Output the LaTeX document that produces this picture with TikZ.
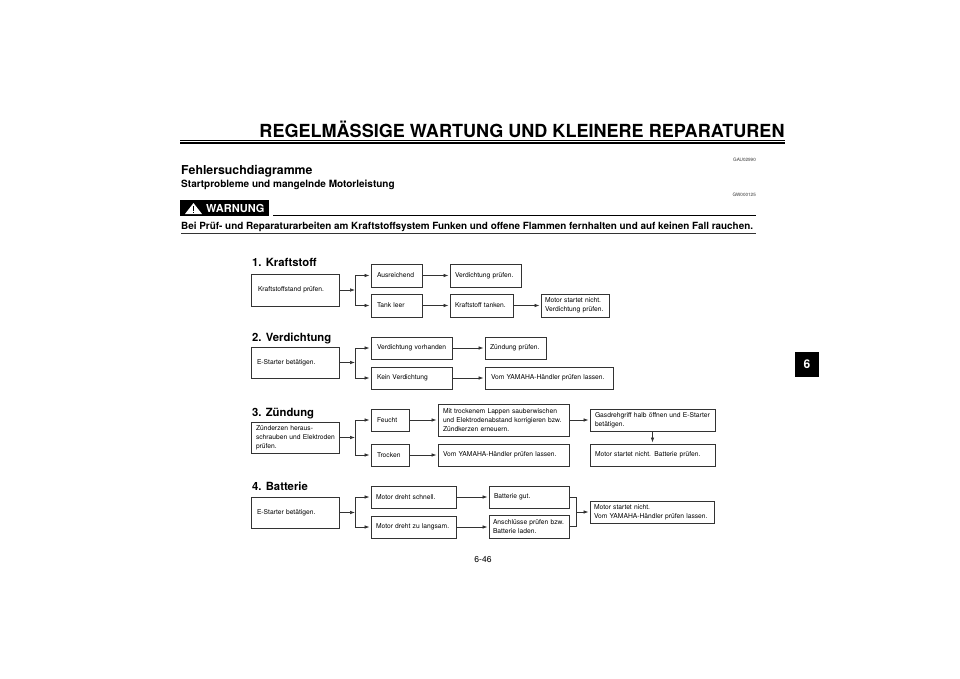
\documentclass[tikz,border=0pt]{standalone}
\usepackage{fontspec}
\setmainfont{TeX Gyre Heros}
\usetikzlibrary{arrows.meta}
\tikzset{
  flowbox/.style n args={3}{draw=black!80,line width=0.7pt,outer sep=0pt,anchor=north west,inner xsep=#3pt,inner ysep=0pt,text width=#1pt-2*#3pt,minimum height=#2pt,align=left,font=\fontsize{6.7}{9.2}\selectfont},
  flowline/.style={draw=black!80,line width=0.7pt},
  flowarrow/.style={flowline,-{Latex[length=5pt,width=3.6pt]},shorten >=1.5pt},
  heading/.style={anchor=base west,inner sep=0pt,font=\fontsize{11.3}{14}\selectfont\bfseries},
  plaintext/.style={anchor=base west,inner sep=0pt},
  codetext/.style={anchor=base east,inner sep=0pt,font=\fontsize{4.6}{5}\selectfont,text=black!80}
}
\begin{document}
\begin{tikzpicture}[x=1pt,y=-1pt]
\useasboundingbox (0,0) rectangle (960,678);

\node[anchor=base,inner sep=0pt,font=\fontsize{18.05}{21}\selectfont\bfseries] (title) at (522,137) {REGELMÄSSIGE WARTUNG UND KLEINERE REPARATUREN};
\draw[line width=0.6pt] (180,140) -- (785,140);
\draw[line width=1.4pt] (180,143) -- (785,143);
\node[codetext] (codea) at (756,161) {GAU02990};
\node[plaintext,font=\fontsize{12.3}{15}\selectfont\bfseries] (fehler) at (181,174) {Fehlersuchdiagramme};
\node[plaintext,font=\fontsize{10}{11}\selectfont\bfseries] (start) at (181,187) {Startprobleme und mangelnde Motorleistung};
\node[codetext] (codeb) at (756,196) {GW000125};

\fill[black] (180,200) rectangle (269,216);
\fill[white] (193.5,203) -- (202,214) -- (185,214) -- cycle;
\fill[black] (192.6,206) rectangle (194.4,210.8);
\fill[black] (192.6,211.6) rectangle (194.4,213.2);
\node[plaintext,text=white,font=\fontsize{11}{12}\selectfont\bfseries] (warn) at (206,212) {WARNUNG};
\draw[line width=0.9pt] (273,215.5) -- (756,215.5);
\node[plaintext,font=\fontsize{9.9}{11}\selectfont\bfseries] (warntext) at (181,229) {Bei Prüf- und Reparaturarbeiten am Kraftstoffsystem Funken und offene Flammen fernhalten und auf keinen Fall rauchen.};
\draw[line width=1.2pt,black!80] (181,233.5) -- (756,233.5);

\node[heading] (heada) at (252,266) {1. Kraftstoff};
\node[flowbox={88}{32}{7}] (kstand) at (251,274) {Kraftstoffstand prüfen.};
\node[flowbox={51}{23}{6}] (ausr) at (371,264) {Ausreichend};
\node[flowbox={71}{23}{5}] (vpruef) at (450,264) {Verdichtung prüfen.};
\node[flowbox={51}{23}{6}] (tank) at (371,294) {Tank leer};
\node[flowbox={63}{23}{5}] (ktank) at (450,294) {Kraftstoff tanken.};
\node[flowbox={68}{23}{4}] (mstart) at (541,294) {Motor startet nicht.\\Verdichtung prüfen.};
\coordinate (forka) at ([xshift=16pt]kstand.east);
\draw[flowarrow,shorten >=0pt] (kstand) -- (forka);
\draw[flowarrow] (forka) |- (ausr);
\draw[flowarrow] (forka) |- (tank);
\draw[flowarrow] (ausr) -- (vpruef);
\draw[flowarrow] (tank) -- (ktank);
\draw[flowarrow] (ktank) -- (mstart);

\node[heading] (headb) at (252,341) {2. Verdichtung};
\node[flowbox={88}{31}{6}] (estartb) at (251,347) {E-Starter betätigen.};
\node[flowbox={81}{22}{6}] (vvor) at (371,337) {\mbox{Verdichtung vorhanden}};
\node[flowbox={61}{22}{5}] (zpruef) at (485,337) {\mbox{Zündung prüfen.}};
\node[flowbox={81}{22}{6}] (vkein) at (371,367) {Kein Verdichtung};
\node[flowbox={128}{22}{6}] (yamb) at (485,367) {Vom YAMAHA-Händler prüfen lassen.};
\coordinate (forkb) at ([xshift=16pt]estartb.east);
\draw[flowarrow,shorten >=0pt] (estartb) -- (forkb);
\draw[flowarrow] (forkb) |- (vvor);
\draw[flowarrow] (forkb) |- (vkein);
\draw[flowarrow] (vvor) -- (zpruef);
\draw[flowarrow] (vkein) -- (yamb);

\node[heading] (headc) at (252,416) {3. Zündung};
\node[flowbox={88}{31}{5}] (zkerz) at (251,422) {Zünderzen heraus-\\\mbox{schrauben und Elektroden}\\prüfen.};
\node[flowbox={38}{22}{6}] (feucht) at (371,409) {Feucht};
\node[flowbox={131}{32}{5}] (mit) at (438,404) {Mit trockenem Lappen sauberwischen\\\mbox{und Elektrodenabstand korrigieren bzw.}\\Zündkerzen erneuern.};
\node[flowbox={125}{22}{5}] (gas) at (590,409) {\mbox{Gasdrehgriff halb öffnen und E-Starter}\\betätigen.};
\node[flowbox={38}{22}{6}] (trocken) at (371,444) {Trocken};
\node[flowbox={131}{22}{5}] (yamc) at (438,444) {Vom YAMAHA-Händler prüfen lassen.};
\node[flowbox={125}{22}{5}] (mbatt) at (590,444) {Motor startet nicht. Batterie prüfen.};
\coordinate (forkc) at ([xshift=16pt]zkerz.east);
\draw[flowarrow,shorten >=0pt] (zkerz) -- (forkc);
\draw[flowarrow] (forkc) |- (feucht);
\draw[flowarrow] (forkc) |- (trocken);
\draw[flowarrow] (feucht) -- (mit);
\draw[flowarrow] (trocken) -- (yamc);
\draw[flowarrow] (mit.east |- gas.west) -- (gas);
\draw[flowarrow] (gas) -- (mbatt);

\node[heading] (headd) at (252,490) {4. Batterie};
\node[flowbox={88}{31}{6}] (estartd) at (251,497) {E-Starter betätigen.};
\node[flowbox={85}{22}{5}] (schnell) at (371,486) {Motor dreht schnell.};
\node[flowbox={85}{22}{5}] (langsam) at (371,516) {\mbox{Motor dreht zu langsam.}};
\node[flowbox={80}{22}{5}] (bgut) at (489,486) {Batterie gut.};
\node[flowbox={80}{23}{4}] (ansch) at (489,515) {\mbox{Anschlüsse prüfen bzw.}\\Batterie laden.};
\node[flowbox={124}{22}{4}] (ymot) at (590,501) {Motor startet nicht.\\\mbox{Vom YAMAHA-Händler prüfen lassen.}};
\coordinate (forkd) at ([xshift=16pt]estartd.east);
\coordinate (joind) at (576,512);
\draw[flowarrow,shorten >=0pt] (estartd) -- (forkd);
\draw[flowarrow] (forkd) |- (schnell);
\draw[flowarrow] (forkd) |- (langsam);
\draw[flowarrow] (schnell) -- (bgut);
\draw[flowarrow] (langsam) -- (langsam -| ansch.west);
\draw[flowline] (bgut) -| (joind);
\draw[flowline] (ansch) -| (joind);
\draw[flowarrow] (joind) -- (ymot);

\node[anchor=base,inner sep=0pt,font=\fontsize{8.6}{10}\selectfont] (page) at (483,562) {6-46};
\node[fill=black,text=white,minimum width=24pt,minimum height=25pt,inner sep=0pt,font=\fontsize{12}{14}\selectfont\bfseries] (tab) at (807,364.5) {6};
\end{tikzpicture}
\end{document}
